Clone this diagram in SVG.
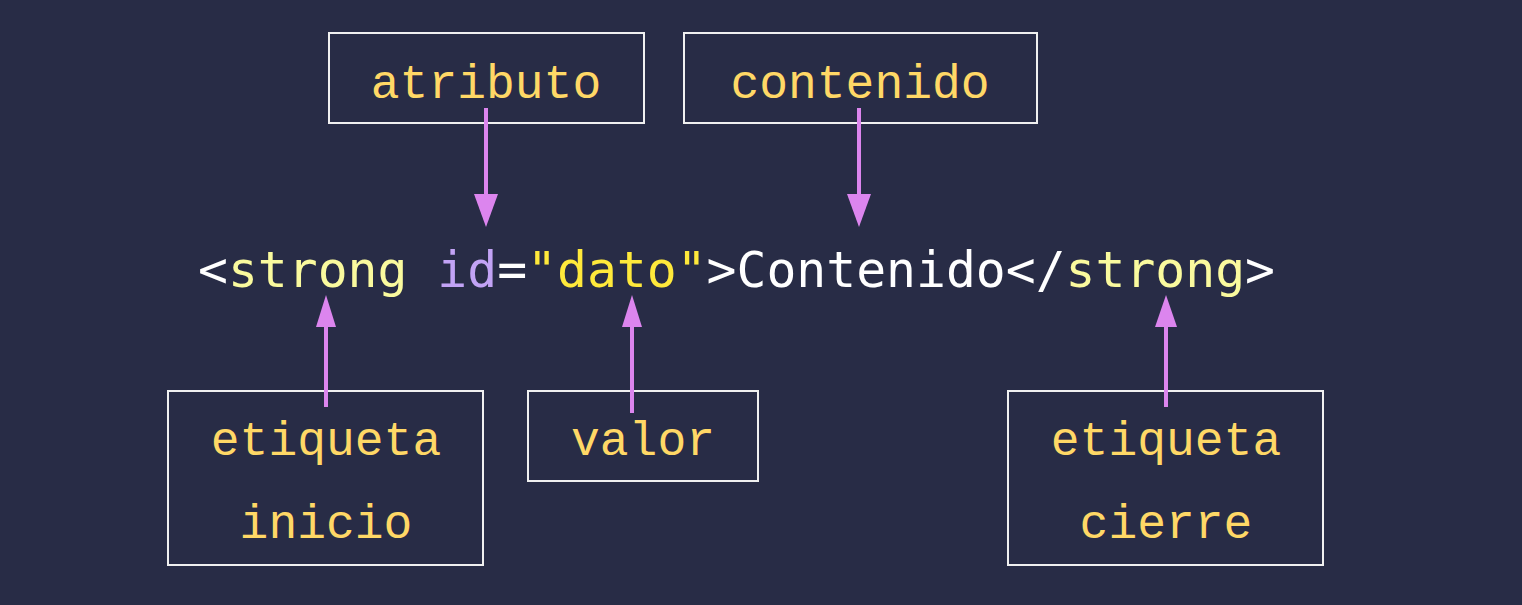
<svg xmlns="http://www.w3.org/2000/svg" width="1522" height="605" viewBox="0 0 1522 605">
<style>
.box{fill:#282c46;stroke:#f0f0f0;stroke-width:2}
.lbl{font-family:"Liberation Mono","DejaVu Sans Mono",monospace;font-size:48px;fill:#ffd866;text-anchor:middle}
.code{font-family:"DejaVu Sans Mono","Liberation Mono",monospace;font-size:49.7px;fill:#ffffff}
.tag{fill:#fafa9e}
.attr{fill:#c2a3f5}
.val{fill:#ffe93b}
.arr{stroke:#dc85ee;stroke-width:4;fill:none}
.head{fill:#dc85ee}
</style>
<rect width="1522" height="605" fill="#282c46"/>
<g id="code">
<text class="code" x="198" y="287">&lt;<tspan class="tag">strong</tspan> <tspan class="attr">id</tspan>=<tspan class="val">"dato"</tspan>&gt;Contenido&lt;/<tspan class="tag">strong</tspan>&gt;</text>
</g>
<g id="atributo">
<rect class="box" x="329" y="33" width="315" height="90"/>
<text class="lbl" x="486" y="98">atributo</text>
</g>
<g id="contenido">
<rect class="box" x="684" y="33" width="353" height="90"/>
<text class="lbl" x="860" y="98">contenido</text>
</g>
<g id="etiqueta-inicio">
<rect class="box" x="168" y="391" width="315" height="174"/>
<text class="lbl" x="326" y="455">etiqueta</text>
<text class="lbl" x="326" y="538">inicio</text>
</g>
<g id="valor">
<rect class="box" x="528" y="391" width="230" height="90"/>
<text class="lbl" x="643" y="455">valor</text>
</g>
<g id="etiqueta-cierre">
<rect class="box" x="1008" y="391" width="315" height="174"/>
<text class="lbl" x="1166" y="455">etiqueta</text>
<text class="lbl" x="1166" y="538">cierre</text>
</g>
<g id="connectors">
<line class="arr" x1="486" y1="108" x2="486" y2="196"/>
<polygon class="head" points="474,194 498,194 486,227"/>
<line class="arr" x1="859" y1="108" x2="859" y2="196"/>
<polygon class="head" points="847,194 871,194 859,227"/>
<line class="arr" x1="326" y1="407" x2="326" y2="325"/>
<polygon class="head" points="316,327 336,327 326,295"/>
<line class="arr" x1="632" y1="413" x2="632" y2="325"/>
<polygon class="head" points="622,327 642,327 632,295"/>
<line class="arr" x1="1166" y1="407" x2="1166" y2="325"/>
<polygon class="head" points="1155,327 1177,327 1166,295"/>
</g>
</svg>
